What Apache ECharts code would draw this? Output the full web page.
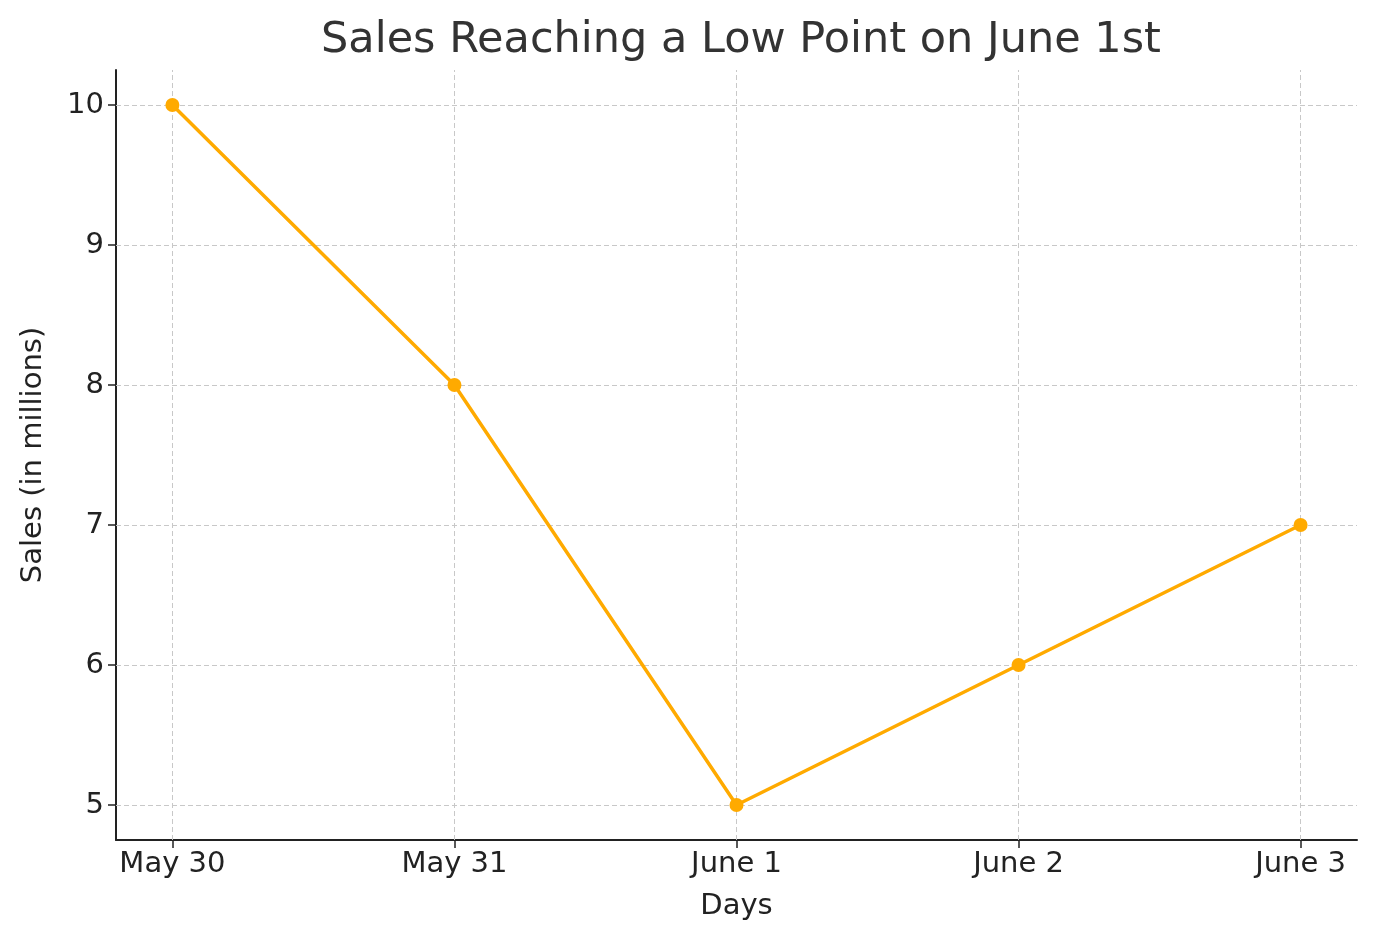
<!DOCTYPE html>
<html><head><meta charset="utf-8">
<script src="https://cdn.jsdelivr.net/npm/echarts@6/dist/echarts.min.js"></script>
<style>html,body{margin:0;padding:0;background:#fff}#c{width:1376px;height:947px}</style>
</head><body><div id="c"></div>
<script>
const categories = ["May 30","May 31","June 1","June 2","June 3"];
const sales = [10, 8, 5, 6, 7];
const yTicks = [5, 6, 7, 8, 9, 10];
const xTicks = [0, 1, 2, 3, 4];

const chart = echarts.init(document.getElementById('c'));
const font = 'DejaVu Sans';
const gridLine = {color:'#c8c8c8', type:[5,3], width:1};
chart.setOption({
  animation:false,
  textStyle:{fontFamily:font},
  title:{text:'Sales Reaching a Low Point on June 1st', left:736, textAlign:'center', top:14,
    textStyle:{fontFamily:font, fontSize:43, fontWeight:'normal', color:'#333'}},
  grid:{left:116, right:19, top:70, bottom:107},
  xAxis:{type:'value', min:-0.2, max:4.2,
    name:'Days', nameLocation:'middle', nameGap:52,
    nameTextStyle:{fontSize:29, color:'#222', fontFamily:font},
    axisLine:{onZero:false, lineStyle:{color:'#222', width:2}},
    axisTick:{show:true, length:8, customValues:xTicks, lineStyle:{color:'#222', width:1.5}},
    axisLabel:{customValues:xTicks, fontSize:29, color:'#222', margin:10, fontFamily:font,
      formatter:v=>categories[Math.round(v)]},
    splitLine:{show:false}},
  yAxis:{type:'value', min:4.75, max:10.25,
    name:'Sales (in millions)', nameLocation:'middle', nameGap:68,
    nameTextStyle:{fontSize:29, color:'#222', fontFamily:font},
    axisLine:{show:true, onZero:false, lineStyle:{color:'#222', width:2}},
    axisTick:{show:true, length:8, customValues:yTicks, lineStyle:{color:'#222', width:1.5}},
    axisLabel:{customValues:yTicks, fontSize:29, color:'#222', margin:12, fontFamily:font},
    splitLine:{show:false}},
  series:[{
    type:'line', data:sales.map((v,i)=>[i,v]),
    lineStyle:{color:'#ffaa00', width:3.5}, itemStyle:{color:'#ffaa00'},
    symbol:'circle', symbolSize:14, z:5,
    markLine:{silent:true, symbol:'none', label:{show:false}, lineStyle:gridLine, z:1,
      data:[...yTicks.map(v=>({yAxis:v})), ...xTicks.map(v=>({xAxis:v}))]}
  }]
});
</script></body></html>
